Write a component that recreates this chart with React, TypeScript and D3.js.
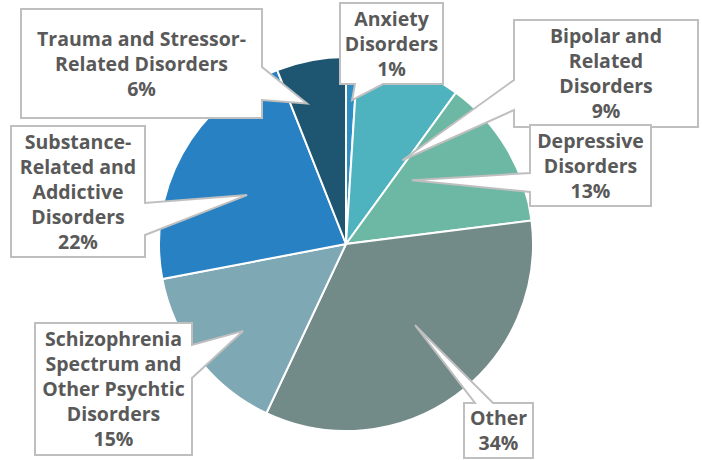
import React, { useEffect, useRef } from 'react';
import * as d3 from 'd3';

// slices, clockwise from 12 o'clock
const categories = [
  'Anxiety Disorders',
  'Bipolar and Related Disorders',
  'Depressive Disorders',
  'Other',
  'Schizophrenia Spectrum and Other Psychtic Disorders',
  'Substance-Related and Addictive Disorders',
  'Trauma and Stressor-Related Disorders',
];
const values = [1, 9, 13, 34, 15, 22, 6];
const colors = ['#2f8fc2', '#4fb2bf', '#6db8a4', '#728a88', '#7ea8b4', '#2781c3', '#1e5570'];

// label text lines
const labelLines = [
  ['Anxiety', 'Disorders'],
  ['Bipolar and', 'Related', 'Disorders'],
  ['Depressive', 'Disorders'],
  ['Other'],
  ['Schizophrenia', 'Spectrum and', 'Other Psychtic', 'Disorders'],
  ['Substance-', 'Related and', 'Addictive', 'Disorders'],
  ['Trauma and Stressor-', 'Related Disorders'],
];

// callout layout: box [x, y, w, h], side the pointer leaves from, base span, tip in polar (deg, radius fraction)
const callouts = [
  { box: [340, 3, 103, 81], side: 'bottom', base: [355, 383], tip: [2.4, 0.77] },
  { box: [514, 20, 184, 107], side: 'left', base: [80, 110], tip: [34, 0.54] },
  { box: [530, 125, 121, 81], side: 'left', base: [173, 192], tip: [46, 0.49] },
  { box: [464, 403, 69, 55], side: 'top', base: [475, 493], tip: [139.6, 0.57] },
  { box: [35, 323, 157, 132], side: 'right', base: [345, 378], tip: [229.8, 0.72] },
  { box: [11, 126, 134, 131], side: 'right', base: [203, 235], tip: [296.3, 0.59] },
  { box: [21, 9, 241, 109], side: 'right', base: [67, 100], tip: [344.5, 0.78] },
];

const width = 702;
const height = 460;
const cx = 346;
const cy = 244;
const radius = 187;

const App = () => {
  const svgRef = useRef<SVGSVGElement | null>(null);

  useEffect(() => {
    const svg = d3.select(svgRef.current);
    svg.selectAll('*').remove();

    const pie = d3.pie<number>().sort(null).value(d => d);
    const arcs = pie(values);
    const arc = d3.arc<d3.PieArcDatum<number>>().innerRadius(0).outerRadius(radius);

    const g = svg.append('g').attr('transform', `translate(${cx},${cy})`);
    g.selectAll('path')
      .data(arcs)
      .enter()
      .append('path')
      .attr('d', arc)
      .attr('fill', (d, i) => colors[i])
      .attr('stroke', '#ffffff')
      .attr('stroke-width', 2);

    const labels = svg.append('g');
    callouts.forEach((c, i) => {
      const [x, y, w, h] = c.box;
      const a = (c.tip[0] * Math.PI) / 180;
      const tx = cx + Math.sin(a) * radius * c.tip[1];
      const ty = cy - Math.cos(a) * radius * c.tip[1];
      const [b0, b1] = c.base;
      let pts: [number, number][];
      if (c.side === 'right') {
        pts = [[x, y], [x + w, y], [x + w, b0], [tx, ty], [x + w, b1], [x + w, y + h], [x, y + h]];
      } else if (c.side === 'left') {
        pts = [[x, y], [x + w, y], [x + w, y + h], [x, y + h], [x, b1], [tx, ty], [x, b0]];
      } else if (c.side === 'bottom') {
        pts = [[x, y], [x + w, y], [x + w, y + h], [b1, y + h], [tx, ty], [b0, y + h], [x, y + h]];
      } else {
        pts = [[x, y], [b0, y], [tx, ty], [b1, y], [x + w, y], [x + w, y + h], [x, y + h]];
      }
      labels.append('path')
        .attr('d', d3.line()(pts) + 'Z')
        .attr('fill', '#ffffff')
        .attr('stroke', '#bfbfbf')
        .attr('stroke-width', 2)
        .attr('stroke-linejoin', 'miter');

      const lines = [...labelLines[i], `${values[i]}%`];
      const lh = 25;
      const first = y + h / 2 - ((lines.length - 1) / 2) * lh + 7;
      const text = labels.append('text')
        .attr('text-anchor', 'middle')
        .style('font-family', '"Open Sans", sans-serif')
        .style('font-weight', 700)
        .style('font-size', '19.5px')
        .style('fill', '#595959');
      lines.forEach((l, j) => {
        text.append('tspan')
          .attr('x', x + w / 2)
          .attr('y', first + j * lh)
          .text(l);
      });
    });
  }, []);

  return (
    <svg
      ref={svgRef}
      width={width}
      height={height}
      style={{ position: 'absolute', left: 0, top: 0, display: 'block', background: '#ffffff' }}
    ></svg>
  );
};

export default App;
